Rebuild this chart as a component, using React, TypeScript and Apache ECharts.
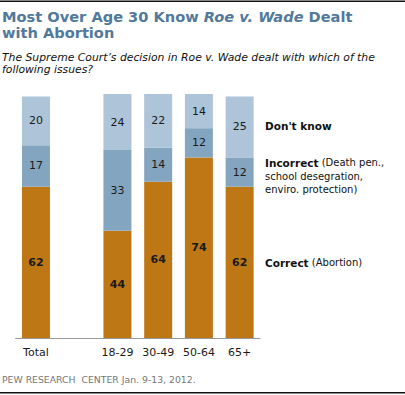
import React, { useEffect, useRef } from "react";
import * as echarts from "echarts";

const categories = ["Total", "", "18-29", "30-49", "50-64", "65+"];
const correct = [62, null, 44, 64, 74, 62];
const incorrect = [17, null, 33, 14, 12, 12];
const dontKnow = [20, null, 24, 22, 14, 25];

const FONT = "DejaVu Sans";
const COL_CORRECT = "#BD7815";
const COL_INCORRECT = "#84A5C0";
const COL_DK = "#AEC4D8";
const TITLE_COL = "#52799B";

export default function App() {
  const ref = useRef<HTMLDivElement>(null);
  useEffect(() => {
    const chart = echarts.init(ref.current!, null, { renderer: "svg" });
    const lbl = (bold: boolean) => ({
      show: true,
      position: "inside" as const,
      color: "#1a1a1a",
      fontFamily: FONT,
      fontSize: 11,
      fontWeight: bold ? ("bold" as const) : ("normal" as const),
      formatter: (p: any) => (p.value == null ? "" : String(p.value)),
    });
    chart.setOption({
      animation: false,
      grid: { left: 15.6, width: 244.4, top: 94, height: 244, containLabel: false },
      xAxis: {
        type: "category",
        data: categories,
        axisLine: { lineStyle: { color: "#999", width: 1 } },
        axisTick: { show: false },
        axisLabel: { interval: 0, color: "#1a1a1a", fontFamily: FONT, fontSize: 11, margin: 9 },
      },
      yAxis: { type: "value", min: 0, max: 100, show: false, splitLine: { show: false } },
      series: [
        { name: "Correct", type: "bar", stack: "a", data: correct, barWidth: 28, itemStyle: { color: COL_CORRECT }, label: lbl(true) },
        { name: "Incorrect", type: "bar", stack: "a", data: incorrect, barWidth: 28, itemStyle: { color: COL_INCORRECT }, label: lbl(false) },
        { name: "Don't know", type: "bar", stack: "a", data: dontKnow, barWidth: 28, itemStyle: { color: COL_DK }, label: lbl(false) },
      ],
      graphic: [
        { type: "rect", shape: { x: 0, y: 0.5, width: 405, height: 1.5 }, style: { fill: "#111" } },
        { type: "rect", shape: { x: 0, y: 392, width: 405, height: 1.5 }, style: { fill: "#111" } },
        {
          type: "text",
          left: 2,
          top: 8.5,
          style: {
            text: "Most Over Age 30 Know {i|Roe v. Wade} Dealt\nwith Abortion",
            fontFamily: FONT,
            fontSize: 14.6,
            fontWeight: "bold",
            fill: TITLE_COL,
            lineHeight: 16,
            rich: { i: { fontFamily: FONT, fontSize: 14.6, fontWeight: "bold", fontStyle: "italic", fill: TITLE_COL, lineHeight: 16 } },
          },
        },
        {
          type: "text",
          left: 2,
          top: 51,
          style: {
            text: "The Supreme Court\u2019s decision in Roe v. Wade dealt with which of the\nfollowing issues?",
            fontFamily: FONT,
            fontSize: 10.8,
            fontStyle: "italic",
            fill: "#111",
            lineHeight: 12,
          },
        },
        {
          type: "text",
          left: 265,
          top: 120,
          style: { text: "Don't know", fontFamily: FONT, fontSize: 10.5, fontWeight: "bold", fill: "#111" },
        },
        {
          type: "text",
          left: 265,
          top: 156,
          style: {
            text: "{b|Incorrect} (Death pen.,\nschool desegration,\nenviro. protection)",
            fontFamily: FONT,
            fontSize: 10,
            fill: "#111",
            lineHeight: 13.5,
            rich: { b: { fontFamily: FONT, fontSize: 10.5, fontWeight: "bold", fill: "#111", lineHeight: 13.5 } },
          },
        },
        {
          type: "text",
          left: 265,
          top: 257,
          style: {
            text: "{b|Correct} (Abortion)",
            fontFamily: FONT,
            fontSize: 10,
            fill: "#111",
            rich: { b: { fontFamily: FONT, fontSize: 10.5, fontWeight: "bold", fill: "#111" } },
          },
        },
        {
          type: "text",
          left: 2,
          top: 375,
          style: { text: "PEW RESEARCH  CENTER Jan. 9-13, 2012.", fontFamily: FONT, fontSize: 9.3, fill: "#777" },
        },
      ],
    });
    return () => chart.dispose();
  }, []);
  return (
    <div
      ref={ref}
      style={{ position: "fixed", left: 0, top: 0, width: 405, height: 395, background: "#fff" }}
    />
  );
}
